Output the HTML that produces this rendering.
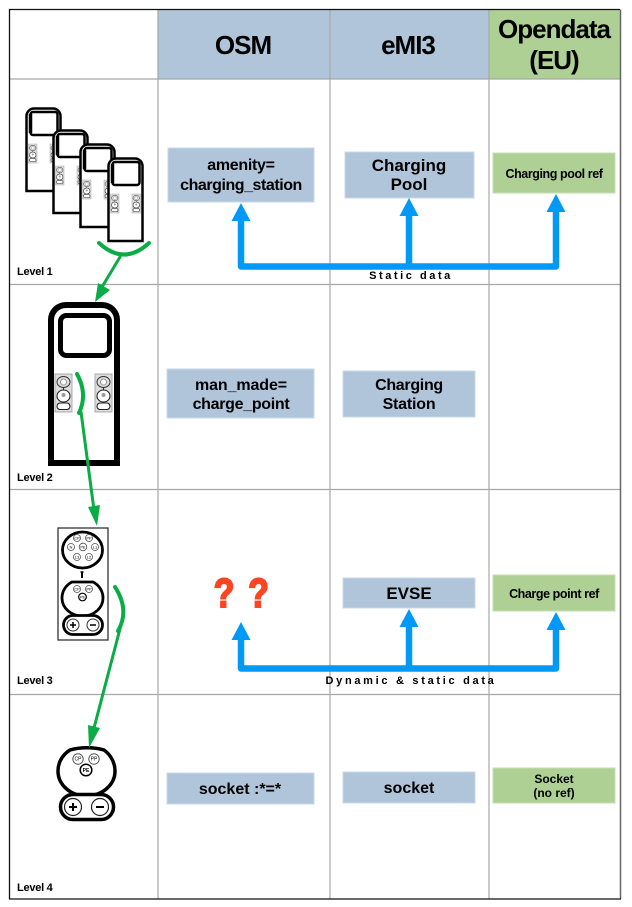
<!DOCTYPE html>
<html>
<head>
<meta charset="utf-8">
<style>
html,body{margin:0;padding:0;background:#fff;width:632px;height:907px;overflow:hidden}
svg{display:block}
text{font-family:"Liberation Sans",sans-serif;font-weight:bold;fill:#000;text-anchor:middle}
.h{font-size:26px;letter-spacing:-1px}
.b{font-size:16px}
.s{font-size:12.5px;letter-spacing:-.42px}
.n{font-size:12px}
.l{font-size:11px;letter-spacing:-.25px;text-anchor:start}
.d{font-size:11px}
.p{font-size:4px;font-weight:normal}
</style>
</head>
<body>
<svg width="632" height="907" viewBox="0 0 632 907" xmlns="http://www.w3.org/2000/svg">
<defs>
<g id="sock">
  <rect x="0" y="0" width="17" height="38" fill="#ddd" stroke="#999" stroke-width=".8"/>
  <ellipse cx="8.5" cy="8" rx="6.5" ry="5.5" fill="#ddd" stroke="#333" stroke-width="1"/>
  <circle cx="8.5" cy="8" r="3" fill="#fff" stroke="#888" stroke-width=".8"/>
  <path d="M8.5 13.500V16" stroke="#333" stroke-width="1"/>
  <ellipse cx="8.5" cy="22" rx="6.5" ry="6" fill="#fff" stroke="#222" stroke-width="1.100"/>
  <circle cx="8.500" cy="21" r="2" fill="#999"/>
  <rect x="2" y="29" width="13" height="6.500" rx="3.200" fill="#fff" stroke="#222" stroke-width="1.100"/>
</g>
<g id="st">
  <path d="M1.500 84V9a7.500 7.500 0 0 1 7.500-7.500H28a7.500 7.500 0 0 1 7.500 7.500V84Z" fill="#fff" stroke="#000" stroke-width="2.500"/>
  <rect x="5.500" y="5" width="27" height="23" rx="2.500" fill="#fff" stroke="#000" stroke-width="2.500"/>
  <path d="M5.500 7V26" stroke="#000" stroke-width="3.500"/>
  <g transform="translate(3.500 37) scale(.5)"><use href="#sock"/></g>
  <g transform="translate(25 37) scale(.5)"><use href="#sock"/></g>
</g>
</defs>

<rect x="158" y="10" width="172" height="69" fill="#b0c4da"/>
<rect x="330" y="10" width="159" height="69" fill="#b0c4da"/>
<rect x="489" y="10" width="131" height="69" fill="#aed094"/>

<g stroke="#a8a8a8" stroke-width="1.200" fill="none">
  <path d="M158 10V899M330 10V899M489 10V899"/>
  <path d="M10 79H620M10 284.500H620M10 489.500H620M10 694.500H620"/>
</g>
<path d="M9.500 899V9.500H620" fill="none" stroke="#111" stroke-width="1.300"/>
<path d="M620.500 9.500V899" fill="none" stroke="#666" stroke-width="1.500"/>
<path d="M9 899H621" fill="none" stroke="#111" stroke-width="1.300"/>

<text class="h" x="243" y="54">OSM</text>
<text class="h" x="408" y="54">eMI3</text>
<text class="h" x="554" y="38">Opendata</text>
<text class="h" x="554" y="69">(EU)</text>

<g fill="#b0c4da" stroke="#c9d8e8" stroke-width="1">
  <rect x="168" y="148" width="146" height="54"/>
  <rect x="345" y="152" width="129" height="46"/>
  <rect x="167" y="369" width="147" height="49"/>
  <rect x="343" y="371" width="132" height="46"/>
  <rect x="343" y="578" width="132" height="30"/>
  <rect x="167" y="773" width="147" height="31"/>
  <rect x="343" y="772" width="132" height="31"/>
</g>
<g fill="#aed094" stroke="#c5dfb2" stroke-width="1">
  <rect x="493" y="153" width="122" height="40"/>
  <rect x="493" y="575" width="122" height="36"/>
  <rect x="493" y="768" width="122" height="35"/>
</g>

<text class="b" x="241" y="170" style="letter-spacing:-.3px">amenity=</text>
<text class="b" x="241" y="190" style="letter-spacing:-.45px">charging_station</text>
<text class="b" x="409" y="171" style="font-size:17px">Charging</text>
<text class="b" x="409" y="190" style="font-size:17px">Pool</text>
<text class="s" x="554" y="178">Charging pool ref</text>
<text class="b" x="241" y="390" style="letter-spacing:-.1px">man_made=</text>
<text class="b" x="241" y="409" style="letter-spacing:-.3px">charge_point</text>
<text class="b" x="409" y="390" style="letter-spacing:-.3px">Charging</text>
<text class="b" x="409" y="409" style="letter-spacing:-.2px">Station</text>
<text class="b" x="409" y="599" style="font-size:17px">EVSE</text>
<text class="s" x="554" y="598">Charge point ref</text>
<text class="b" x="240" y="794">socket :*=*</text>
<text class="b" x="409" y="793">socket</text>
<text class="n" x="554" y="783">Socket</text>
<text class="n" x="554" y="797">(no ref)</text>
<text transform="translate(224 607) scale(.82 1)" style="font-size:41px;fill:#ff4422;stroke:#ff4422;stroke-width:2px">?</text>
<text transform="translate(258.500 607) scale(.82 1)" style="font-size:41px;fill:#ff4422;stroke:#ff4422;stroke-width:2px">?</text>

<!-- blue arrows -->
<g fill="none" stroke="#0099f5" stroke-width="6.500" stroke-linejoin="round">
  <path d="M241 219V266.500H556V210"/>
  <path d="M409 214V266"/>
  <path d="M241 638V668.500H556V628"/>
  <path d="M409 625V668"/>
</g>
<g fill="#0099f5">
  <path d="M241 203L250.500 221H231.500Z"/>
  <path d="M409 198L418.500 216H399.500Z"/>
  <path d="M556 194L565.500 212H546.500Z"/>
  <path d="M241 622L250.500 640H231.500Z"/>
  <path d="M409 609L418.500 627H399.500Z"/>
  <path d="M556 612L565.500 630H546.500Z"/>
</g>
<text class="d" x="411" y="279" style="letter-spacing:2.55px">Static data</text>
<text class="d" x="411" y="684" style="letter-spacing:2.7px">Dynamic &amp; static data</text>

<text class="l" x="17" y="275">Level 1</text>
<text class="l" x="17" y="481">Level 2</text>
<text class="l" x="17" y="684">Level 3</text>
<text class="l" x="17" y="891">Level 4</text>

<!-- Level 1 stations -->
<use href="#st" x="25" y="107"/>
<use href="#st" x="52" y="129"/>
<use href="#st" x="79" y="143"/>
<use href="#st" x="107" y="157"/>

<!-- Level 2 station -->
<path d="M51 463V320a15 15 0 0 1 15-15H102a15 15 0 0 1 15 15V463Z" fill="#fff" stroke="#000" stroke-width="6"/>
<rect x="60.500" y="315.500" width="49" height="40" rx="6" fill="#fff" stroke="#000" stroke-width="5"/>
<use href="#sock" x="55" y="374"/>
<use href="#sock" x="95" y="374"/>

<!-- Level 3 socket -->
<rect x="58" y="528" width="50" height="112" fill="#fff" stroke="#222" stroke-width="1.200"/>
<ellipse cx="82.500" cy="550" rx="20" ry="18" fill="#fff" stroke="#000" stroke-width="2.800"/>
<g fill="#fff" stroke="#555" stroke-width=".8">
  <circle cx="77" cy="538" r="3.500"/><circle cx="89" cy="538" r="3.500"/>
  <circle cx="71" cy="547" r="3.500"/><circle cx="83" cy="547" r="3.800"/><circle cx="95" cy="547" r="3.500"/>
  <circle cx="77" cy="557" r="3.500"/><circle cx="89" cy="557" r="3.500"/>
</g>
<g>
  <text class="p" x="77" y="539.500">CP</text><text class="p" x="89" y="539.500">PP</text>
  <text class="p" x="71" y="548.500">N</text><text class="p" x="83" y="548.500">PE</text><text class="p" x="95" y="548.500">L1</text>
  <text class="p" x="77" y="558.500">L3</text><text class="p" x="89" y="558.500">L2</text>
</g>
<path d="M82 572V578" stroke="#000" stroke-width="2"/><path d="M80.500 572H83.500" stroke="#000" stroke-width="1.500"/>
<path d="M72 582H93C99 585 103 591 103 598C103 608 94 616 82.500 616C71 616 62 608 62 598C62 591 66 585 72 582Z" fill="#fff" stroke="#000" stroke-width="2.800"/>
<circle cx="77" cy="589" r="3.500" fill="#fff" stroke="#555" stroke-width=".8"/>
<circle cx="89" cy="589" r="3.500" fill="#fff" stroke="#555" stroke-width=".8"/>
<circle cx="82.500" cy="597" r="3.800" fill="#fff" stroke="#000" stroke-width="1.200"/>
<text class="p" x="77" y="590.500">CP</text><text class="p" x="89" y="590.500">PP</text><text class="p" x="82.500" y="598.500">PE</text>
<rect x="63.500" y="615.500" width="39" height="19" rx="9.500" fill="#fff" stroke="#000" stroke-width="2.800"/>
<circle cx="73" cy="625" r="6" fill="#fff" stroke="#333" stroke-width="1"/>
<circle cx="93" cy="625" r="6" fill="#fff" stroke="#333" stroke-width="1"/>
<path d="M70 625H76M73 622V628M90 625H96" stroke="#000" stroke-width="1.500"/>

<!-- Level 4 socket -->
<path d="M70 750C80 747 94 747 104 750C111 755 115 763 115 771C115 785 102 796 86 796C71 796 58 785 58 771C58 763 62 755 70 750Z" fill="#fff" stroke="#000" stroke-width="3.500"/>
<circle cx="78" cy="759" r="5.200" fill="#fff" stroke="#555" stroke-width="1"/>
<circle cx="94" cy="759" r="5.200" fill="#fff" stroke="#555" stroke-width="1"/>
<circle cx="86" cy="770" r="5.800" fill="#fff" stroke="#000" stroke-width="1.500"/>
<text class="p" x="78" y="760.500" style="font-size:5px">CP</text>
<text class="p" x="94" y="760.500" style="font-size:5px">PP</text>
<text class="p" x="86" y="771.800" style="font-size:5px;font-weight:bold">PE</text>
<rect x="60.500" y="794.500" width="53" height="25" rx="12.500" fill="#fff" stroke="#000" stroke-width="3.500"/>
<circle cx="73" cy="807" r="8.500" fill="#fff" stroke="#222" stroke-width="1.200"/>
<circle cx="100" cy="807" r="8.500" fill="#fff" stroke="#222" stroke-width="1.200"/>
<path d="M69 807H77M73 803V811M96 807H104" stroke="#000" stroke-width="2"/>

<!-- green connectors -->
<g fill="none" stroke="#0aad45" stroke-linecap="round">
  <path d="M99 243Q124 266 149 243" stroke-width="4"/>
  <path d="M120 257L102 287" stroke-width="3"/>
  <path d="M77 374Q88 394 79 413" stroke-width="4"/>
  <path d="M81 412L94 510" stroke-width="3"/>
  <path d="M115 587Q130 610 118 631" stroke-width="4"/>
  <path d="M121 625L94 728" stroke-width="3"/>
</g>
<g fill="#0aad45">
  <path d="M95 302L98 283L110 290Z"/>
  <path d="M97 526L88 507L100 505Z"/>
  <path d="M89 748L88 725L100 728Z"/>
</g>
</svg>
</body>
</html>
